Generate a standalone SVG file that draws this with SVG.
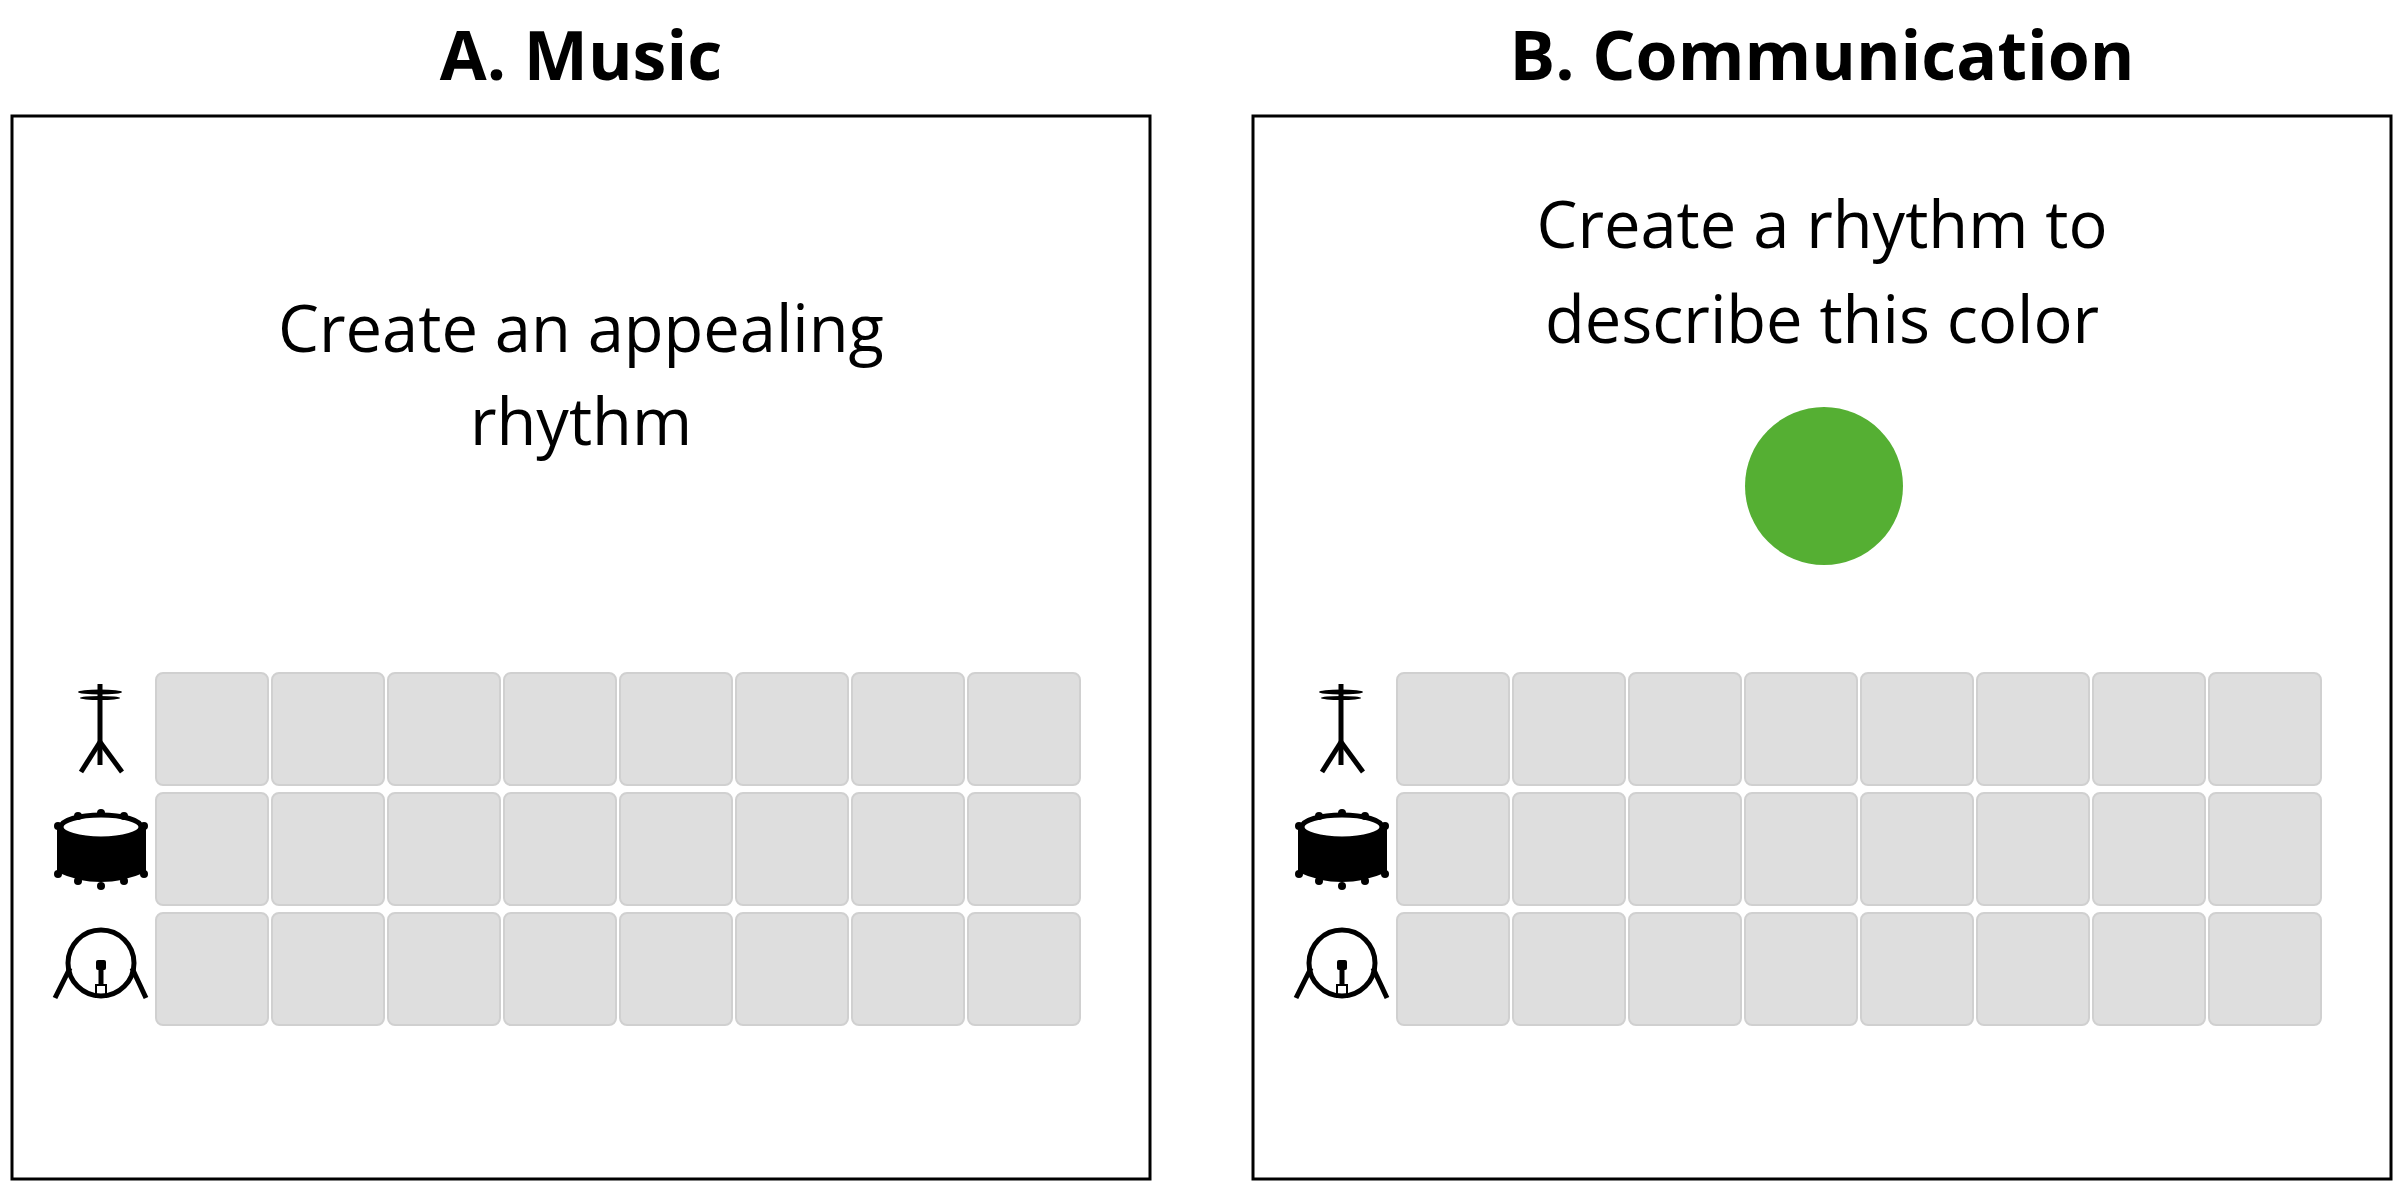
<svg xmlns="http://www.w3.org/2000/svg" xmlns:xlink="http://www.w3.org/1999/xlink" width="2408" height="1190" viewBox="0 0 2408 1190">
<style>
.panel{fill:#fff;stroke:#000;stroke-width:3}
.title{font-family:"Open Sans","Liberation Sans",sans-serif;font-weight:bold;font-size:68px;text-anchor:middle}
.body{font-family:"Open Sans","Liberation Sans",sans-serif;font-size:65px;text-anchor:middle}
.cell{fill:#dedede;stroke:#d0d0d0;stroke-width:2}
.ln{stroke:#000;stroke-width:5;fill:none;stroke-linecap:butt}
</style>
<defs>
<rect id="c" class="cell" x="0" y="0" width="112" height="112" rx="7"/>
<g id="grid">
<g id="row">
<use xlink:href="#c" x="0"/><use xlink:href="#c" x="116"/><use xlink:href="#c" x="232"/><use xlink:href="#c" x="348"/>
<use xlink:href="#c" x="464"/><use xlink:href="#c" x="580"/><use xlink:href="#c" x="696"/><use xlink:href="#c" x="812"/>
</g>
<use xlink:href="#row" y="120"/>
<use xlink:href="#row" y="240"/>
</g>
<g id="icons">
<line class="ln" x1="100" y1="684" x2="100" y2="765" stroke-width="4"/>
<ellipse cx="100" cy="692" rx="22" ry="2.5" fill="#000"/>
<ellipse cx="100" cy="698" rx="20" ry="2" fill="#000"/>
<line class="ln" x1="100" y1="742" x2="81" y2="772" stroke-width="4"/>
<line class="ln" x1="100" y1="742" x2="122" y2="772" stroke-width="4"/>
<path d="M57 828 L57 872 Q100 892 146 872 L146 828 Q100 848 57 828 Z" fill="#000"/>
<ellipse cx="101" cy="827" rx="40" ry="12" fill="none" stroke="#000" stroke-width="5"/>
<g fill="#000">
<circle cx="78" cy="816" r="4"/><circle cx="101" cy="813" r="4"/><circle cx="124" cy="816" r="4"/>
<circle cx="78" cy="841" r="4"/><circle cx="101" cy="844" r="4"/><circle cx="124" cy="841" r="4"/>
<circle cx="58" cy="826" r="4"/><circle cx="144" cy="826" r="4"/>
<circle cx="78" cy="881" r="4"/><circle cx="101" cy="886" r="4"/><circle cx="124" cy="881" r="4"/>
<circle cx="58" cy="874" r="4"/><circle cx="144" cy="874" r="4"/>
</g>
<circle cx="101" cy="963" r="33" fill="none" stroke="#000" stroke-width="5"/>
<line class="ln" x1="70" y1="968" x2="55" y2="998"/>
<line class="ln" x1="132" y1="968" x2="146" y2="998"/>
<rect x="96" y="960" width="10" height="10" rx="2" fill="#000"/>
<line class="ln" x1="101" y1="965" x2="101" y2="985" stroke-width="3"/>
<rect x="96" y="985" width="10" height="12" fill="none" stroke="#000" stroke-width="2"/>
</g>
</defs>
<rect width="2408" height="1190" fill="#fff"/>
<g id="panelA">
<text class="title" x="581" y="80">A. Music</text>
<rect class="panel" x="12" y="116" width="1138" height="1063"/>
<text class="body" x="581" y="352">Create an appealing</text>
<text class="body" x="581" y="445">rhythm</text>
<use xlink:href="#icons"/>
<use xlink:href="#grid" x="156" y="673"/>
</g>
<g id="panelB">
<text class="title" x="1822" y="80">B. Communication</text>
<rect class="panel" x="1253" y="116" width="1138" height="1063"/>
<text class="body" x="1822" y="248">Create a rhythm to</text>
<text class="body" x="1822" y="343">describe this color</text>
<circle cx="1824" cy="486" r="79" fill="#55af33"/>
<use xlink:href="#icons" x="1241"/>
<use xlink:href="#grid" x="1397" y="673"/>
</g>
<g id="connectors"/>
</svg>
